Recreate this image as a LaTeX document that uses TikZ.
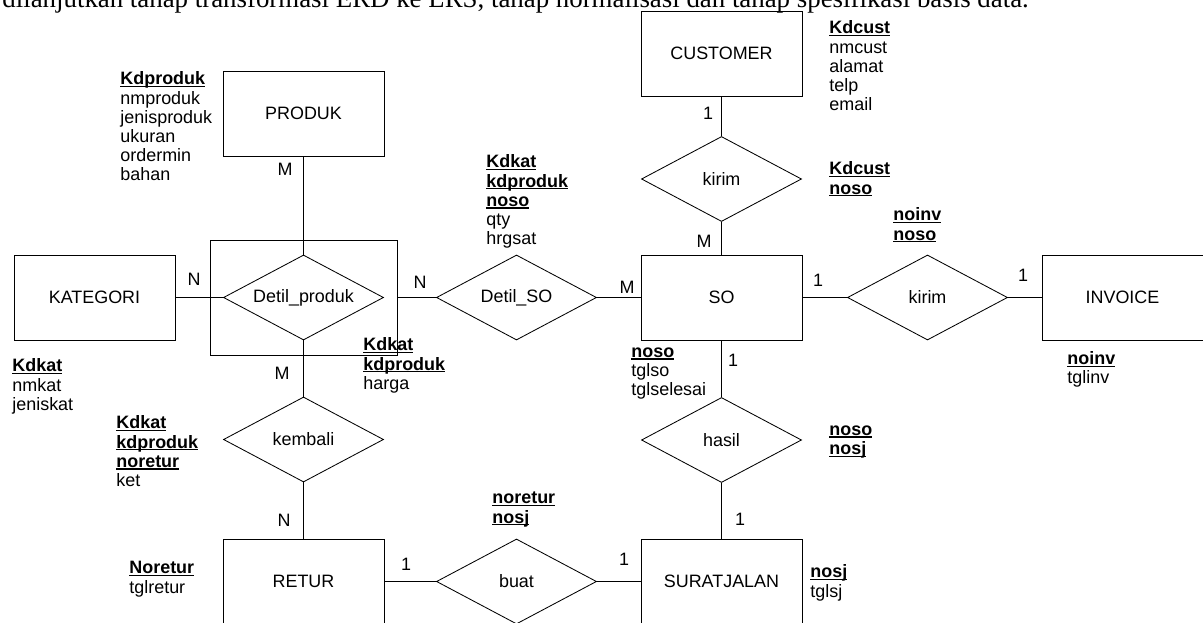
\documentclass[tikz,border=0pt]{standalone}
\usepackage{fontspec}
\setmainfont{Liberation Sans}
\newfontfamily\pageserif{Liberation Serif}
\usetikzlibrary{shapes.geometric}

\tikzset{
    entity/.style={draw, rectangle, minimum width=4.025cm, minimum height=2.125cm, inner sep=0pt},
    relation/.style={draw, diamond, aspect=2, minimum width=4.0cm, minimum height=2.125cm, inner sep=0pt},
    attr/.style={anchor=north west, inner sep=0pt, align=left},
    card/.style={inner sep=0pt}
}
% key attribute: bold, underlined close to the baseline
\newcommand{\keyattr}[1]{\setbox0\hbox{\textbf{#1}}\rlap{\rule[-1.7pt]{\wd0}{0.75pt}}\box0}

\begin{document}
\begin{tikzpicture}[x=0.025cm, y=-0.025cm, line width=0.6pt,
    every node/.style={font=\fontsize{12.75}{13.6}\selectfont}]
    \useasboundingbox (0,0) rectangle (1203,623);

    % Page text above the diagram (cut at the top)
    \node[anchor=base west, inner sep=0pt, font=\fontsize{19.1}{22}\selectfont\pageserif] (pagetext) at (2,8)
        {dilanjutkan tahap transformasi ERD ke LRS, tahap normalisasi dan tahap spesifikasi basis data.};

    % Entities
    \node[entity] (customer) at (721.5,53.5) {CUSTOMER};
    \node[entity] (produk) at (303.5,113.5) {PRODUK};
    \node[entity] (kategori) at (94.5,297.5) {KATEGORI};
    \node[entity] (so) at (721.5,297.5) {SO};
    \node[entity] (invoice) at (1122.5,297.5) {INVOICE};
    \node[entity] (retur) at (303.5,581.5) {RETUR};
    \node[entity] (suratjalan) at (721.5,581.5) {SURATJALAN};

    % Aggregation box round Detil_produk
    \node[draw, rectangle, minimum width=4.675cm, minimum height=2.875cm, inner sep=0pt] (agg) at (303.5,297.5) {};

    % Relationships
    \node[relation] (detilproduk) at (303.5,297.5) {Detil\_produk};
    \node[relation] (detilso) at (516.5,297.5) {Detil\_SO};
    \node[relation] (kirimcust) at (721.5,179) {kirim};
    \node[relation] (kiriminv) at (927.5,297.5) {kirim};
    \node[relation] (kembali) at (303.5,439.5) {kembali};
    \node[relation] (hasil) at (721.5,440) {hasil};
    \node[relation] (buat) at (516.5,581.5) {buat};

    % Connectors
    \draw (customer) -- (kirimcust);
    \draw (kirimcust) -- (so);
    \draw (so) -- (kiriminv);
    \draw (kiriminv) -- (invoice);
    \draw (so) -- (hasil);
    \draw (hasil) -- (suratjalan);
    \draw (retur) -- (buat);
    \draw (buat) -- (suratjalan);
    \draw (produk) -- (detilproduk);
    \draw (kategori) -- (detilproduk);
    \draw (detilproduk) -- (kembali);
    \draw (kembali) -- (retur);
    \draw (agg) -- (detilso);
    \draw (detilso) -- (so);

    % Cardinalities
    \foreach \px/\py/\lbl/\nm in {708/113/1/cardcust, 704/241/M/cardsotop, 818/280/1/cardsoright,
        1023/275/1/cardinv, 733/360/1/cardsobottom, 740/519/1/cardsjtop, 624/559/1/cardsjleft,
        406/564/1/cardretur, 284/520/N/cardreturtop, 282/373/M/cardaggbottom, 285/169/M/cardproduk,
        194/279/N/cardkategori, 420/282/N/cardaggright, 627/287/M/cardsoleft}
        \node[card] (\nm) at (\px,\py) {\lbl};

    % Attributes
    \node[attr] (attcustomer) at (829,20.1) {\strut\keyattr{Kdcust}\\nmcust\\alamat\\telp\\email};
    \node[attr] (attproduk) at (120,71.1) {\strut\keyattr{Kdproduk}\\nmproduk\\jenisproduk\\ukuran\\ordermin\\bahan};
    \node[attr] (attdetilso) at (486,154.1) {\strut\keyattr{Kdkat}\\\keyattr{kdproduk}\\\keyattr{noso}\\qty\\hrgsat};
    \node[attr] (attkirimcust) at (829,161.1) {\strut\keyattr{Kdcust}\\\keyattr{noso}};
    \node[attr] (attkiriminv) at (893,207.1) {\strut\keyattr{noinv}\\\keyattr{noso}};
    \node[attr] (attkategori) at (12,358.1) {\strut\keyattr{Kdkat}\\nmkat\\jeniskat};
    \node[attr] (attdetilproduk) at (363,337.1) {\strut\keyattr{Kdkat}\\\keyattr{kdproduk}\\harga};
    \node[attr] (attso) at (631,343.3) {\strut\keyattr{noso}\\tglso\\tglselesai};
    \node[attr] (attinvoice) at (1067,350.4) {\strut\keyattr{noinv}\\tglinv};
    \node[attr] (attkembali) at (116,415.1) {\strut\keyattr{Kdkat}\\\keyattr{kdproduk}\\\keyattr{noretur}\\ket};
    \node[attr] (atthasil) at (829,421.3) {\strut\keyattr{noso}\\\keyattr{nosj}};
    \node[attr] (attretur) at (129,560.1) {\strut\keyattr{Noretur}\\tglretur};
    \node[attr] (attbuat) at (492,490.1) {\strut\keyattr{noretur}\\\keyattr{nosj}};
    \node[attr] (attsuratjalan) at (810,564.1) {\strut\keyattr{nosj}\\tglsj};
\end{tikzpicture}
\end{document}
